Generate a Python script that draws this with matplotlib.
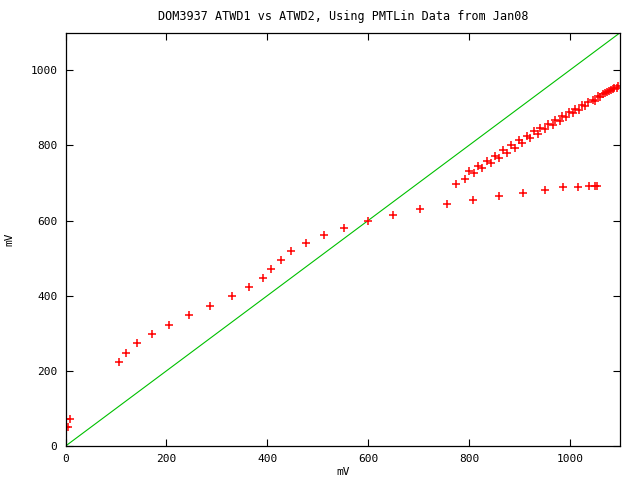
import numpy as np
import matplotlib
matplotlib.use('Agg')
import matplotlib.pyplot as plt

# ATWD1 vs ATWD2 readings (mV)
low_x = [1, 8, 1, 5]
low_y = [72, 72, 51, 51]

main_x = [106.7, 120.6, 142.4, 172.2, 205.9, 245.6, 287.4, 329.2, 364.7, 390.7,
          408.4, 426.4, 448.0, 476.0, 511.8, 551.6, 599.4, 648.8, 702.5, 756.1]
main_y = [223, 247, 274, 298, 322, 348.5, 372.5, 399, 423, 447,
          471, 495, 519, 540.5, 562, 580.5, 600, 615, 631, 644.5]

# flat branch (saturating)
flat_x = [807.6, 859.5, 907.8, 950.9, 986.4, 1015.9, 1038.2, 1050.0, 1053.5]
flat_y = [655, 666, 674, 682, 688, 690, 692.5, 693, 693]

# rising branch
up_x = [775.1, 791.9, 800.5, 810.7, 817.8, 826.4, 835.6, 843.5, 851.3, 859.5,
        867.4, 876.1, 883.2, 891.1, 899.1, 905.9, 915.0, 920.9, 928.9, 936.2,
        940.7, 950.8, 956.7, 966.6, 970.6, 980.5, 985.3, 991.8, 999.2, 1006.4,
        1011.1, 1018.2, 1024.2, 1030.2, 1036.1, 1046.9, 1049.4, 1056.8, 1060.8, 1066.0,
        1069.3, 1073.9, 1077.9, 1082.0, 1085.8, 1088.6, 1093.8, 1096.5]
up_y = [698, 711, 731.5, 727, 746, 740.5, 759, 754, 773, 767,
        787, 780.5, 800, 794, 813, 807, 824, 820.5, 837, 830,
        845, 843.5, 858, 854, 868.5, 866, 879, 875.5, 890, 887,
        898, 895, 908.5, 905, 915.5, 922, 917.5, 932.5, 928, 938,
        939.5, 943, 945, 947.5, 949, 952, 954, 958]

ref_line = [0, 1100]

plt.rcParams['font.family'] = ['DejaVu Sans Mono']
plt.rcParams['font.size'] = 8

fig = plt.figure(figsize=(6.4, 4.8), dpi=100)
ax = fig.add_axes([0.1025, 0.0708, 0.8665, 0.8612])

ax.plot(ref_line, ref_line, color='#00c000', linewidth=0.8)

xs = low_x + main_x + flat_x + up_x
ys = low_y + main_y + flat_y + up_y
ax.plot(xs, ys, linestyle='none', marker='+', color='#ff0000',
        markersize=5.5, markeredgewidth=1.1)

ax.set_xlim(0, 1100)
ax.set_ylim(0, 1100)
ax.set_xticks([0, 200, 400, 600, 800, 1000])
ax.set_yticks([0, 200, 400, 600, 800, 1000])
ax.tick_params(direction='in', length=5, width=0.8, top=True, right=True, pad=6)
for s in ax.spines.values():
    s.set_linewidth(0.9)

ax.set_title('DOM3937 ATWD1 vs ATWD2, Using PMTLin Data from Jan08',
             fontsize=8.5, pad=9)
ax.set_xlabel('mV')
ax.set_ylabel('mV')
ax.xaxis.set_label_coords(0.5, -0.05)
ax.yaxis.set_label_coords(-0.092, 0.5)

fig.savefig('out.png', dpi=100)
